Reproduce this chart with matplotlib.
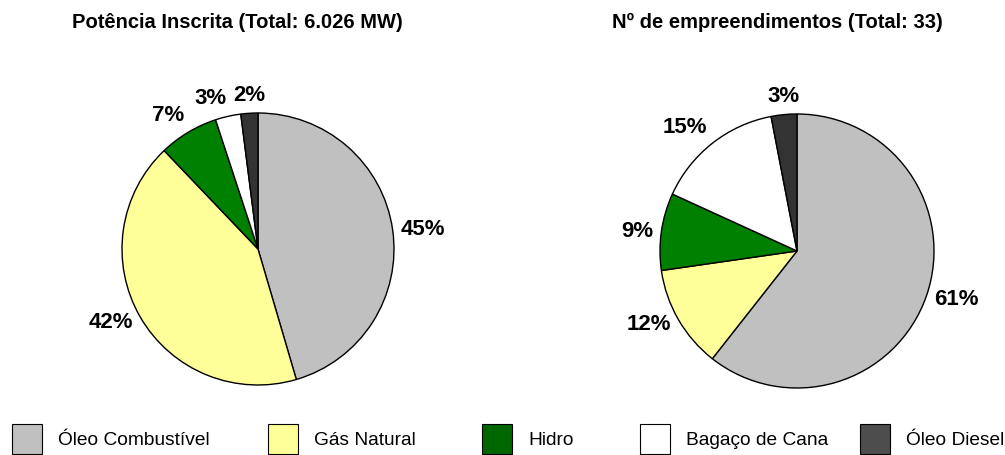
import numpy as np
import matplotlib
matplotlib.use('Agg')
import matplotlib.pyplot as plt
from matplotlib.patches import Rectangle

plt.rcParams['font.family'] = ['Liberation Sans', 'DejaVu Sans']

# data
categories = ['Óleo Combustível', 'Gás Natural', 'Hidro', 'Bagaço de Cana', 'Óleo Diesel']
potencia_pct = [45, 42, 7, 3, 2]          # % of 6.026 MW
empreendimentos = [20, 4, 3, 5, 1]        # count, total 33
titles = ['Potência Inscrita (Total: 6.026 MW)', 'Nº de empreendimentos (Total: 33)']

pie_colors = ['#C0C0C0', '#FFFF99', '#008000', '#FFFFFF', '#333333']
legend_colors = ['#C0C0C0', '#FFFF99', '#006600', '#FFFFFF', '#4D4D4D']

W, H = 1005, 456
fig = plt.figure(figsize=(W / 100, H / 100), dpi=100)


def pie_axes(cx, cy, r):
    # cx, cy, r in pixels (y from top)
    return fig.add_axes([(cx - r) / W, (H - cy - r) / H, 2 * r / W, 2 * r / H])


def draw_pie(ax, values):
    total = float(sum(values))
    wedges, _ = ax.pie(values, colors=pie_colors, startangle=90, counterclock=False,
                       wedgeprops=dict(edgecolor='black', linewidth=1.0))
    ax.set_xlim(-1, 1)
    ax.set_ylim(-1, 1)
    for w, v in zip(wedges, values):
        ang = np.deg2rad((w.theta1 + w.theta2) / 2)
        c, s = np.cos(ang), np.sin(ang)
        d = 1.06
        ha = 'left' if c > 0.15 else ('right' if c < -0.15 else 'center')
        va = 'bottom' if s > 0.7 else ('top' if s < -0.7 else 'center')
        ax.text(d * c, d * s, '%.0f%%' % (100 * v / total), ha=ha, va=va,
                fontsize=16, fontweight='bold', clip_on=False)


ax1 = pie_axes(258, 250, 136)
draw_pie(ax1, potencia_pct)
ax2 = pie_axes(797, 252, 137)
draw_pie(ax2, empreendimentos)

fig.text(237 / W, 1 - 22 / H, titles[0], ha='center', va='center', fontsize=14.5, fontweight='bold')
fig.text(777 / W, 1 - 22 / H, titles[1], ha='center', va='center', fontsize=14.5, fontweight='bold')

# legend
box_x = [12, 268, 482, 640, 860]
for x, lab, col in zip(box_x, categories, legend_colors):
    fig.add_artist(Rectangle((x / W, 1 - 455 / H), 30 / W, 30 / H, transform=fig.transFigure,
                             facecolor=col, edgecolor='black', linewidth=0.8))
    fig.text((x + 46) / W, 1 - 441 / H, lab, ha='left', va='center', fontsize=13.8)

fig.savefig('out.png', dpi=100)
